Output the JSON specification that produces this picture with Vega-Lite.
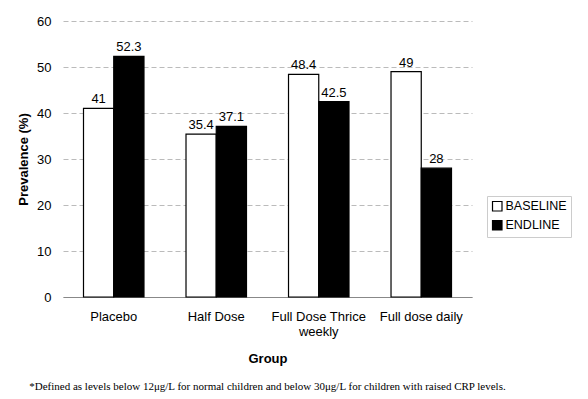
{
  "$schema": "https://vega.github.io/schema/vega-lite/v6.json",
  "autosize": "none",
  "width": 409,
  "height": 276,
  "padding": {"left": 63, "top": 21, "right": 116, "bottom": 102},
  "background": "white",
  "config": {
    "font": "Liberation Sans",
    "view": {"stroke": null}
  },
  "title": {
    "text": "*Defined as levels below 12\u03bcg/L for normal children and below 30\u03bcg/L for children with raised CRP levels.",
    "orient": "bottom",
    "anchor": "middle",
    "font": "Liberation Serif",
    "fontSize": 11,
    "fontWeight": "normal",
    "color": "black",
    "offset": 16
  },
  "data": {
    "values": [
      {"group": "Placebo", "time": "BASELINE", "value": 41},
      {"group": "Placebo", "time": "ENDLINE", "value": 52.3},
      {"group": "Half Dose", "time": "BASELINE", "value": 35.4},
      {"group": "Half Dose", "time": "ENDLINE", "value": 37.1},
      {"group": "Full Dose Thrice weekly", "time": "BASELINE", "value": 48.4},
      {"group": "Full Dose Thrice weekly", "time": "ENDLINE", "value": 42.5},
      {"group": "Full dose daily", "time": "BASELINE", "value": 49},
      {"group": "Full dose daily", "time": "ENDLINE", "value": 28}
    ]
  },
  "encoding": {
    "x": {
      "field": "group",
      "type": "nominal",
      "sort": ["Placebo", "Half Dose", "Full Dose Thrice weekly", "Full dose daily"],
      "scale": {"paddingInner": 0.41, "paddingOuter": 0.2},
      "axis": {
        "title": "Group",
        "titleFont": "Liberation Sans",
        "titleFontSize": 13,
        "titleFontWeight": "bold",
        "titleColor": "black",
        "titlePadding": 14,
        "labelAngle": 0,
        "labelFontSize": 13,
        "labelColor": "black",
        "labelPadding": 13,
        "labelLimit": 200,
        "labelExpr": "datum.label == 'Full Dose Thrice weekly' ? ['Full Dose Thrice', 'weekly'] : datum.label",
        "ticks": false,
        "domainColor": "#888888",
        "domainWidth": 1
      }
    },
    "xOffset": {"field": "time", "type": "nominal", "scale": {"paddingInner": 0}},
    "y": {
      "field": "value",
      "type": "quantitative",
      "scale": {"domain": [0, 60]},
      "axis": {
        "title": "Prevalence (%)",
        "titleFontSize": 13,
        "titleFontWeight": "bold",
        "titleColor": "black",
        "titlePadding": 6,
        "values": [0, 10, 20, 30, 40, 50, 60],
        "labelFontSize": 13,
        "labelColor": "black",
        "labelPadding": 12,
        "ticks": false,
        "domain": false,
        "gridColor": "#bbbbbb",
        "gridDash": [5, 3],
        "gridWidth": 1
      }
    }
  },
  "layer": [
    {
      "mark": {"type": "bar", "stroke": "black", "strokeWidth": 1.2},
      "encoding": {
        "fill": {
          "field": "time",
          "type": "nominal",
          "scale": {"domain": ["BASELINE", "ENDLINE"], "range": ["white", "black"]},
          "legend": {
            "title": null,
            "orient": "none",
            "legendX": 424,
            "legendY": 175,
            "symbolType": "square",
            "symbolSize": 90,
            "symbolStrokeColor": "black",
            "symbolStrokeWidth": 1.2,
            "labelFontSize": 12.5,
            "labelColor": "black",
            "labelOffset": 2,
            "rowPadding": 4,
            "padding": 4,
            "strokeColor": "#cccccc"
          }
        }
      }
    },
    {
      "mark": {"type": "text", "dy": -9, "fontSize": 13, "color": "black"},
      "encoding": {"text": {"field": "value", "type": "quantitative"}}
    }
  ]
}
